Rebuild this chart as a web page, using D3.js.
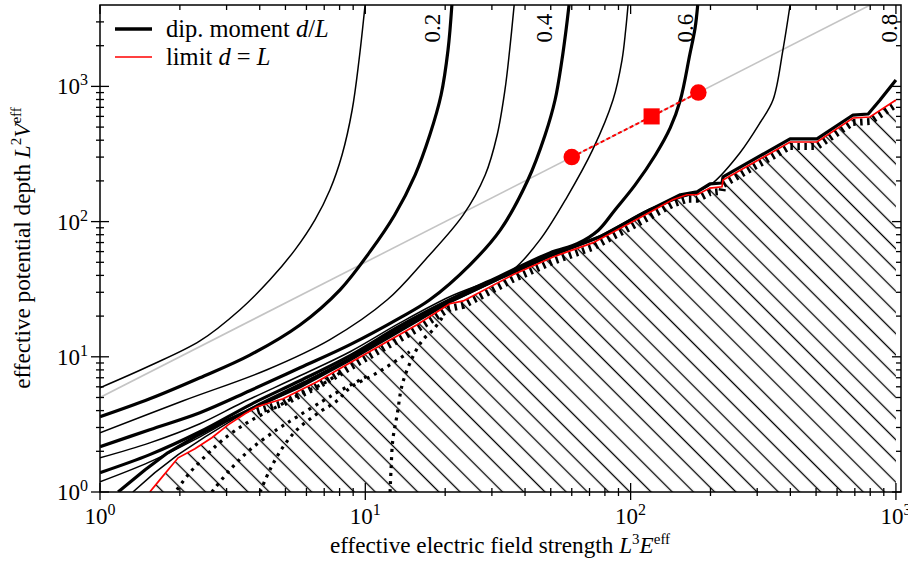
<!DOCTYPE html>
<html>
<head>
<meta charset="utf-8">
<script src="https://d3js.org/d3.v7.min.js"></script>
<style>
  body { margin: 0; background: #fff; }
  text { font-family: "Liberation Serif", "Times New Roman", serif; fill: #000; }
</style>
</head>
<body>
<svg id="chart" width="908" height="563"></svg>
<script>
// contour levels of the dipole moment d/L (even ones are drawn thick)
var levels = [0.1, 0.2, 0.3, 0.4, 0.5, 0.6, 0.7, 0.8, 0.9];

// contour lines, [E, V] pairs
var c1 = [[1.00,5.90],[1.54,8.58],[2.38,13.1],[3.37,22.3],[4.37,37.1],[5.43,61.8],[6.46,103],[7.36,172],[8.17,311],[8.92,669],[9.47,1567],[9.98,4000]];
var c2 = [[1.00,3.60],[1.54,4.89],[2.38,7.00],[3.67,10.3],[5.67,17.2],[8.03,31.3],[10.4,59.7],[12.9,112],[15.4,221],[17.5,437],[19.3,864],[20.5,1858],[21.2,4000]];
var c3 = [[1.00,2.74],[2.06,4.73],[4.26,8.02],[7.36,13.4],[12.1,26.4],[16.8,52.1],[23.4,112],[28.3,221],[31.4,437],[33.6,941],[35.0,1858],[36.4,4000]];
var c4 = [[1.00,2.16],[1.54,2.89],[2.38,3.86],[3.67,5.61],[5.67,8.29],[8.76,12.3],[13.5,19.4],[17.5,26.4],[24.8,47.9],[32.3,86.9],[41.0,203],[47.6,437],[51.9,793],[55.1,1567],[57.1,2612],[58.6,4000]];
var c5 = [[1.00,1.79],[1.54,2.31],[2.38,3.20],[3.43,4.57],[5.67,7.24],[8.76,10.9],[13.5,17.8],[20.8,27.8],[29.5,36.5],[36.0,44.0],[45.5,73.2],[57.6,152],[71.9,339],[85.8,793],[92.8,1567],[95.8,2612],[97.8,4000]];
var c6 = [[1.00,1.39],[1.54,1.89],[2.38,2.79],[3.74,4.49],[5.67,6.65],[8.76,10.2],[13.5,16.9],[20.8,26.4],[32.3,39.7],[49.6,58.7],[62.9,68.5],[75.4,86.0],[87.3,122],[104,187],[124,311],[141,493],[154,793],[167,1707],[175,2702],[179,4000]];
var c7 = [[1.00,1.19],[1.54,1.67],[2.38,2.56],[3.84,4.34],[5.67,6.32],[8.76,9.83],[13.5,16.4],[20.8,25.9],[32.3,39.0],[49.6,56.8],[76.5,78.4],[118,124],[182,169],[204,193],[258,322],[307,536],[344,793],[375,1858],[399,4000]];
var c8 = [[1.17,1.0],[1.48,1.46],[1.80,1.95],[2.28,2.56],[2.88,3.25],[3.61,3.99],[5.67,6.11],[8.76,9.66],[13.5,15.8],[20.8,25.6],[32.3,38.4],[49.6,55.8],[76.5,77.1],[118,122],[154,158],[178,166],[199,190],[221,193],[223,214],[399,409],[504,409],[689,614],[786,625],[871,793],[1000,1115]];
var c9 = [[1.33,1.0],[1.61,1.39],[1.97,1.89],[2.49,2.56],[3.23,3.50],[3.74,4.10],[5.67,5.90],[8.76,9.34],[13.5,15.3],[20.8,25.1],[32.3,37.7],[49.6,54.8],[76.5,75.8],[118,120],[154,152],[182,163]];
var contours = [c1, c2, c3, c4, c5, c6, c7, c8, c9];

// limit d = L
var limitE = [1.54,1.68,1.97,2.28,2.64,3.04,3.52,3.91,4.90,6.58,8.76,11.7,15.6,20.8,23.4,36.0,51.0,71.9,99.6,144,163,178,199,221,223,399,504,689,798,1000];
var limitV = [1.0,1.23,1.79,2.09,2.52,3.14,3.79,4.27,4.89,6.53,9.03,12.5,17.2,24.7,25.9,40.4,54.8,69.6,97.8,145,158,158,177,181,203,388,388,584,594,793];

// dotted lines inside the forbidden region
var dA = [[1.95,1.04],[2.18,1.39],[2.53,1.89],[2.91,2.44],[3.58,3.25],[4.64,4.27],[5.83,5.42],[6.93,6.32],[8.03,7.62]];
var dB = [[2.64,1.0],[3.09,1.46],[3.67,2.05],[4.64,2.89],[5.53,3.60],[6.93,4.73],[8.03,5.61],[10.4,7.36]];
var dC = [[4.01,1.0],[4.37,1.46],[4.90,2.16],[5.53,2.89],[6.58,3.79],[7.82,4.73],[8.76,5.90],[11.1,7.62],[14.7,10.9]];
var dD = [[12.4,1.0],[12.5,1.46],[12.7,2.44],[13.2,3.79],[13.8,6.32],[15.1,10.0],[16.5,13.4],[18.0,15.8],[19.6,19.8]];
var dotted = [dA, dB, dC, dD];

// grey reference line V = 5E and the marked points
var greyE = [1, 800];
var greyV = [5, 4000];
var markE = [60, 120, 180];
var markV = [300, 600, 900];
var markShape = ["circle", "square", "circle"];

// labels of the contours at the top
var labelText = ["0.2", "0.4", "0.6", "0.8"];
var labelE = [19.1, 50.5, 172, 1005];
var labelV = 2700;

var decades = [1, 10, 100, 1000];

var svg = d3.select("#chart"),
    W = 908, H = 563,
    m = {left: 100, right: 7, top: 5, bottom: 71};

var x = d3.scaleLog().domain([1, 1045]).range([m.left, W - m.right]);
var y = d3.scaleLog().domain([1, 4000]).range([H - m.bottom, m.top]);

var defs = svg.append("defs");
defs.append("clipPath").attr("id", "plotclip")
  .append("rect")
    .attr("x", m.left).attr("y", m.top)
    .attr("width", W - m.left - m.right).attr("height", H - m.top - m.bottom);

var pat = defs.append("pattern")
    .attr("id", "hatch")
    .attr("patternUnits", "userSpaceOnUse")
    .attr("width", 15).attr("height", 15)
    .attr("patternTransform", "rotate(-45)");
pat.append("line")
    .attr("x1", 7.5).attr("y1", -1).attr("x2", 7.5).attr("y2", 16)
    .attr("stroke", "#000").attr("stroke-width", 1.3);

var g = svg.append("g").attr("clip-path", "url(#plotclip)");

var smooth = d3.line().x(d => x(d[0])).y(d => y(d[1])).curve(d3.curveCatmullRom.alpha(0.5));
var straight = d3.line().x(d => x(d[0])).y(d => y(d[1]));

var limit = limitE.map((e, i) => [e, limitV[i]]);

// hatched region below the limit
var hatchPoly = limit.concat([[limitE[limitE.length - 1], 1], [limitE[0], 1]]);
g.append("path")
  .attr("d", straight(hatchPoly) + "Z")
  .attr("fill", "url(#hatch)")
  .attr("stroke", "none");

// dotted lines
g.selectAll(".dot")
  .data(dotted)
  .enter().append("path")
    .attr("class", "dot")
    .attr("d", smooth)
    .attr("fill", "none")
    .attr("stroke", "#000")
    .attr("stroke-width", 3.2)
    .attr("stroke-dasharray", "3,5");

// dense dotted band just under the limit
g.append("path")
  .attr("d", straight(limit.slice(7)))
  .attr("transform", "translate(0,4.5)")
  .attr("fill", "none")
  .attr("stroke", "#000")
  .attr("stroke-width", 7)
  .attr("stroke-dasharray", "2.5,4.5");

// grey line
g.append("path")
  .attr("d", straight(greyE.map((e, i) => [e, greyV[i]])))
  .attr("fill", "none")
  .attr("stroke", "#c4c4c4")
  .attr("stroke-width", 1.6);

// contours
g.selectAll(".contour")
  .data(contours)
  .enter().append("path")
    .attr("class", "contour")
    .attr("d", (d, i) => (i >= 7 ? straight(d) : smooth(d)))
    .attr("fill", "none")
    .attr("stroke", "#000")
    .attr("stroke-linejoin", "round")
    .attr("stroke-width", (d, i) => (Math.round(levels[i] * 10) % 2 === 0 ? 3.2 : 1.5));

// limit line
g.append("path")
  .attr("d", straight(limit))
  .attr("fill", "none")
  .attr("stroke", "#ff0000")
  .attr("stroke-width", 1.7);

// marked points
var marks = markE.map((e, i) => [e, markV[i], markShape[i]]);
g.append("path")
  .attr("d", straight(marks))
  .attr("fill", "none")
  .attr("stroke", "#ff0000")
  .attr("stroke-width", 2)
  .attr("stroke-dasharray", "4,2.5");
g.selectAll(".mark")
  .data(marks)
  .enter().append("path")
    .attr("class", "mark")
    .attr("transform", d => "translate(" + x(d[0]) + "," + y(d[1]) + ")")
    .attr("d", d => d3.symbol().type(d[2] === "circle" ? d3.symbolCircle : d3.symbolSquare).size(d[2] === "circle" ? 215 : 260)())
    .attr("fill", "#ff0000");

// contour labels
g.selectAll(".clabel")
  .data(labelText)
  .enter().append("text")
    .attr("class", "clabel")
    .attr("transform", (d, i) => "translate(" + x(labelE[i]) + "," + y(labelV) + ") rotate(-90)")
    .attr("text-anchor", "middle")
    .style("font-size", "23px")
    .text(d => d);

// frame
var x0 = m.left, x1 = W - m.right, y0 = H - m.bottom, y1 = m.top;
svg.append("rect")
  .attr("x", x0).attr("y", y1)
  .attr("width", x1 - x0).attr("height", y0 - y1)
  .attr("fill", "none").attr("stroke", "#000").attr("stroke-width", 1.5);

// ticks
function minorTicks(dom) {
  var out = [];
  decades.forEach(function(d) {
    for (var k = 2; k <= 9; k++) {
      var v = d * k;
      if (v > dom[0] && v < dom[1]) out.push(v);
    }
  });
  return out;
}
var ticks = svg.append("g").attr("stroke", "#000").attr("stroke-width", 1.3);
var xMaj = decades.filter(v => v <= x.domain()[1]);
var yMaj = decades.filter(v => v <= y.domain()[1]);
xMaj.forEach(function(v) {
  ticks.append("line").attr("x1", x(v)).attr("x2", x(v)).attr("y1", y0 - 9).attr("y2", y0 + 8);
  ticks.append("line").attr("x1", x(v)).attr("x2", x(v)).attr("y1", y1).attr("y2", y1 + 9);
});
minorTicks(x.domain()).forEach(function(v) {
  ticks.append("line").attr("x1", x(v)).attr("x2", x(v)).attr("y1", y0 - 4).attr("y2", y0 + 4);
  ticks.append("line").attr("x1", x(v)).attr("x2", x(v)).attr("y1", y1).attr("y2", y1 + 5);
});
yMaj.forEach(function(v) {
  ticks.append("line").attr("y1", y(v)).attr("y2", y(v)).attr("x1", x0 - 9).attr("x2", x0 + 9);
  ticks.append("line").attr("y1", y(v)).attr("y2", y(v)).attr("x1", x1 - 9).attr("x2", x1);
});
minorTicks(y.domain()).forEach(function(v) {
  ticks.append("line").attr("y1", y(v)).attr("y2", y(v)).attr("x1", x0 - 4).attr("x2", x0 + 4);
  ticks.append("line").attr("y1", y(v)).attr("y2", y(v)).attr("x1", x1 - 5).attr("x2", x1);
});

// tick labels
function powLabel(sel, v) {
  sel.append("tspan").text("10");
  sel.append("tspan").attr("dy", -9).style("font-size", "16px").text(Math.round(Math.log10(v)));
}
xMaj.forEach(function(v) {
  var t = svg.append("text")
    .attr("x", x(v)).attr("y", y0 + 32)
    .attr("text-anchor", "middle")
    .style("font-size", "23px");
  powLabel(t, v);
});
yMaj.forEach(function(v) {
  var t = svg.append("text")
    .attr("x", x0 - 12).attr("y", y(v) + 8)
    .attr("text-anchor", "end")
    .style("font-size", "23px");
  powLabel(t, v);
});

// axis titles
var xt = svg.append("text")
  .attr("x", 500).attr("y", 553)
  .attr("text-anchor", "middle")
  .style("font-size", "23.2px");
xt.append("tspan").text("effective electric field strength ");
xt.append("tspan").style("font-style", "italic").text("L");
xt.append("tspan").attr("dy", -9).style("font-size", "15px").text("3");
xt.append("tspan").attr("dy", 9).style("font-style", "italic").text("E");
xt.append("tspan").attr("dy", -9).style("font-size", "15px").text("eff");

var yt = svg.append("text")
  .attr("transform", "translate(30,248) rotate(-90)")
  .attr("text-anchor", "middle")
  .style("font-size", "23.2px");
yt.append("tspan").text("effective potential depth ");
yt.append("tspan").style("font-style", "italic").text("L");
yt.append("tspan").attr("dy", -9).style("font-size", "15px").text("2");
yt.append("tspan").attr("dy", 9).style("font-style", "italic").text("V");
yt.append("tspan").attr("dy", -9).style("font-size", "15px").text("eff");

// legend
var leg = svg.append("g");
leg.append("line").attr("x1", 115).attr("x2", 152).attr("y1", 29).attr("y2", 29)
  .attr("stroke", "#000").attr("stroke-width", 3.5);
leg.append("line").attr("x1", 115).attr("x2", 152).attr("y1", 57).attr("y2", 57)
  .attr("stroke", "#ff0000").attr("stroke-width", 1.7);
var l1 = leg.append("text").attr("x", 166).attr("y", 37).style("font-size", "24.5px");
l1.append("tspan").text("dip. moment ");
l1.append("tspan").style("font-style", "italic").text("d");
l1.append("tspan").text("/");
l1.append("tspan").style("font-style", "italic").text("L");
var l2 = leg.append("text").attr("x", 166).attr("y", 65).style("font-size", "24.5px");
l2.append("tspan").text("limit ");
l2.append("tspan").style("font-style", "italic").text("d");
l2.append("tspan").text(" = ");
l2.append("tspan").style("font-style", "italic").text("L");
</script>
</body>
</html>
